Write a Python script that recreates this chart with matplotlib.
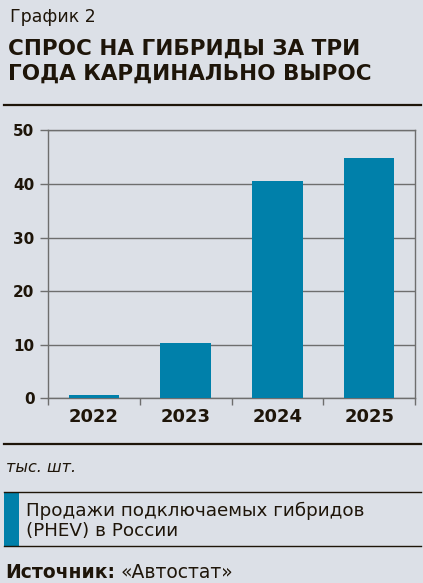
import matplotlib.pyplot as plt
from matplotlib.lines import Line2D
from matplotlib.patches import Rectangle

years = ['2022', '2023', '2024', '2025']
sales = [0.6, 10.4, 40.5, 44.8]   # тыс. шт.
yticks = [0, 10, 20, 30, 40, 50]

W, H = 423, 583
bg = '#dce0e7'
ink = '#1e1509'
blue = '#0080aa'
gray = '#6e6e6e'

fig = plt.figure(figsize=(W / 100, H / 100), dpi=100, facecolor=bg)


def fx(x):
    return x / W


def fy(y):
    return 1 - y / H


def hline(y, lw):
    fig.add_artist(Line2D([fx(4), fx(421)], [fy(y), fy(y)], color=ink, lw=lw))


# header
fig.text(fx(10), fy(22), 'График 2', fontsize=12.5, color=ink, va='baseline')
fig.text(fx(8), fy(55), 'СПРОС НА ГИБРИДЫ ЗА ТРИ', fontsize=15.5,
         fontweight='bold', color=ink, va='baseline')
fig.text(fx(8), fy(80), 'ГОДА КАРДИНАЛЬНО ВЫРОС', fontsize=15.5,
         fontweight='bold', color=ink, va='baseline')
hline(105, 1.6)

# chart
ax = fig.add_axes([fx(48), fy(398.3), fx(415 - 48), (398.3 - 130.3) / H])
ax.set_facecolor(bg)
pos = list(range(len(years)))
ax.bar(pos, sales, width=0.55, color=blue, zorder=3)
ax.set_xlim(-0.5, 3.5)
ax.set_ylim(0, 50)
ax.set_yticks(yticks)
ax.set_yticklabels([str(v) for v in yticks], fontsize=11, fontweight='bold', color=ink)
ax.yaxis.grid(True, color=gray, lw=1)
ax.set_axisbelow(True)
ax.set_xticks(pos)
ax.set_xticklabels(years, fontsize=13, fontweight='bold', color=ink)
ax.set_xticks([p - 0.5 for p in pos] + [3.5], minor=True)
ax.tick_params(axis='x', which='major', length=0, pad=7)
ax.tick_params(axis='x', which='minor', length=5, width=1, color=gray)
ax.tick_params(axis='y', length=5.8, width=1, color=gray, pad=4)
for s in ax.spines.values():
    s.set_color(gray)
    s.set_linewidth(1)

hline(444.3, 1.6)
fig.text(fx(6), fy(471.5), 'тыс. шт.', fontsize=11.5, style='italic', color=ink,
         va='baseline')

# legend
hline(492.3, 1)
hline(546, 1)
fig.add_artist(Rectangle((fx(4), fy(546)), fx(15), (546 - 492.3) / H,
                         facecolor=blue, edgecolor='none'))
fig.text(fx(26), fy(515.5), 'Продажи подключаемых гибридов', fontsize=13.2,
         color=ink, va='baseline')
fig.text(fx(26), fy(536), '(PHEV) в России', fontsize=13.2, color=ink,
         va='baseline')

# source
src = fig.text(fx(5), fy(578), 'Источник:', fontsize=13.5, fontweight='bold',
               color=ink, va='baseline')
ax.annotate('«Автостат»', xy=(1, 0), xycoords=src, xytext=(4, 0),
            textcoords='offset points', fontsize=13.5, color=ink,
            va='bottom', ha='left', annotation_clip=False)

fig.savefig('out.png', dpi=100, facecolor=bg)
